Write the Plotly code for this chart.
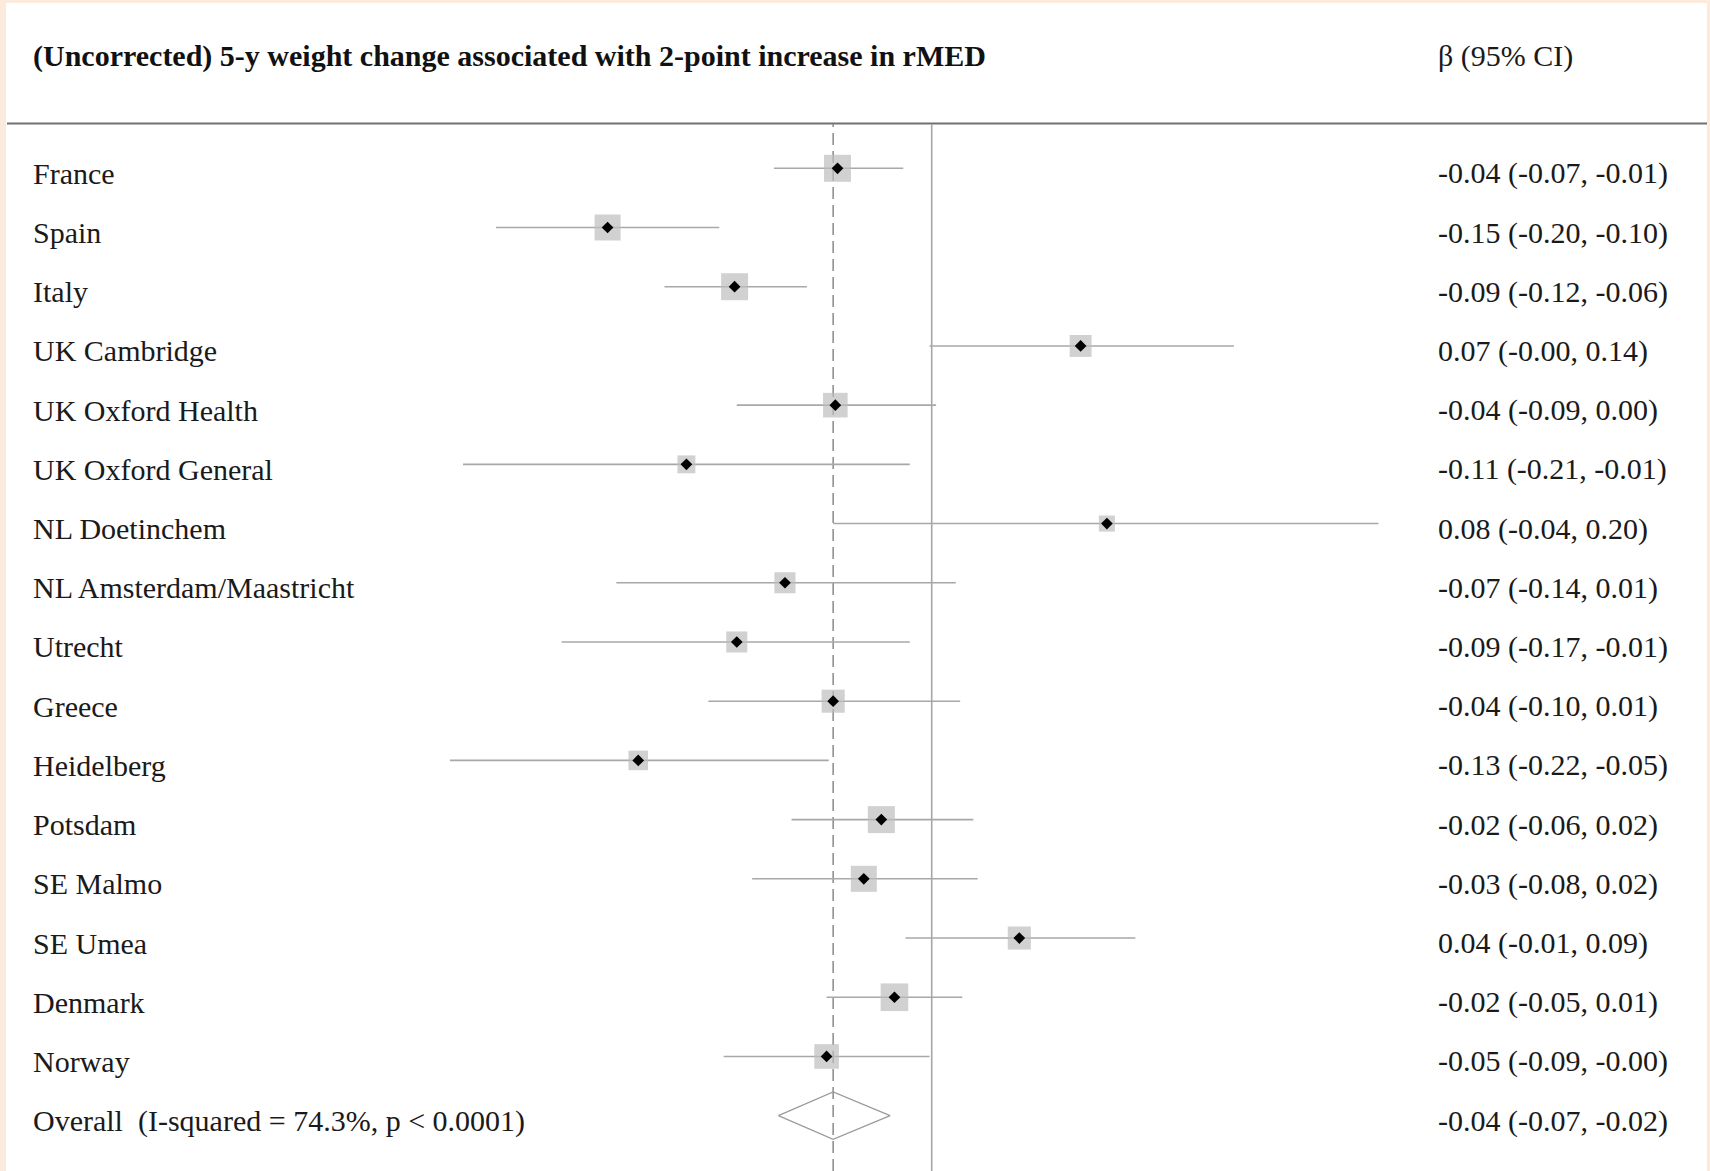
import math
import plotly.graph_objects as go

# ---------------- data ----------------
studies = ["France", "Spain", "Italy", "UK Cambridge", "UK Oxford Health",
           "UK Oxford General", "NL Doetinchem", "NL Amsterdam/Maastricht",
           "Utrecht", "Greece", "Heidelberg", "Potsdam", "SE Malmo",
           "SE Umea", "Denmark", "Norway"]
beta = [-0.043, -0.148, -0.090, 0.068, -0.044, -0.112, 0.080, -0.067,
        -0.089, -0.045, -0.134, -0.023, -0.031, 0.040, -0.017, -0.048]
ci_low = [-0.072, -0.199, -0.122, -0.001, -0.089, -0.214, -0.045, -0.144,
          -0.169, -0.102, -0.220, -0.064, -0.082, -0.012, -0.048, -0.095]
ci_high = [-0.013, -0.097, -0.057, 0.138, 0.002, -0.010, 0.204, 0.011,
           -0.010, 0.013, -0.047, 0.019, 0.021, 0.093, 0.014, -0.001]
weight_pct = [8.2, 7.6, 8.2, 5.4, 6.8, 3.6, 2.9, 5.0, 5.0, 6.0, 4.3, 8.2,
              7.6, 6.0, 8.6, 6.8]
ci_labels = ["-0.04 (-0.07, -0.01)", "-0.15 (-0.20, -0.10)",
             "-0.09 (-0.12, -0.06)", "0.07 (-0.00, 0.14)",
             "-0.04 (-0.09, 0.00)", "-0.11 (-0.21, -0.01)",
             "0.08 (-0.04, 0.20)", "-0.07 (-0.14, 0.01)",
             "-0.09 (-0.17, -0.01)", "-0.04 (-0.10, 0.01)",
             "-0.13 (-0.22, -0.05)", "-0.02 (-0.06, 0.02)",
             "-0.03 (-0.08, 0.02)", "0.04 (-0.01, 0.09)",
             "-0.02 (-0.05, 0.01)", "-0.05 (-0.09, -0.00)"]
overall_name = "Overall\u00a0 (I-squared = 74.3%, p < 0.0001)"
overall_beta = -0.045
overall_low = -0.070
overall_high = -0.019
overall_label = "-0.04 (-0.07, -0.02)"
title_text = "(Uncorrected) 5-y weight change associated with 2-point increase in rMED"
col_header = "β (95% CI)"

# ---------------- layout geometry ----------------
W, H = 1710, 1171
ZERO_PX = 931.7
PX_PER_UNIT = 2190.0
ROW0_PX = 168.3
ROW_STEP = 59.21
FONT = "Liberation Serif, Times New Roman, serif"
LABEL_SIZE = 30
TITLE_SIZE = 30
TEXT_COLOR = "#1a1a1a"

n = len(studies)
rows = list(range(n))
overall_row = n

def px_x(p):
    return p / W

def px_y(p):
    return 1 - p / H

fig = go.Figure()

# CI lines
cx, cy = [], []
for i, (lo, hi) in enumerate(zip(ci_low, ci_high)):
    cx += [lo, hi, None]
    cy += [i, i, None]
fig.add_trace(go.Scatter(x=cx, y=cy, mode="lines",
                         line=dict(color="#a8a8a8", width=1.6),
                         hoverinfo="skip", showlegend=False))

# weight squares
sizes = [9.43 * math.sqrt(w) for w in weight_pct]
fig.add_trace(go.Scatter(x=beta, y=rows, mode="markers",
                         marker=dict(symbol="square", size=sizes,
                                     color="#bdbdbd", line=dict(width=0)),
                         hoverinfo="skip", showlegend=False))

# point estimates
fig.add_trace(go.Scatter(x=beta, y=rows, mode="markers",
                         marker=dict(symbol="diamond", size=9, color="black",
                                     line=dict(width=0)),
                         text=studies, hoverinfo="text+x", showlegend=False))

# overall diamond
half_h = 0.4
fig.add_trace(go.Scatter(
    x=[overall_low, overall_beta, overall_high, overall_beta, overall_low],
    y=[overall_row, overall_row - half_h, overall_row, overall_row + half_h, overall_row],
    mode="lines", line=dict(color="#9a9a9a", width=1.3),
    hoverinfo="skip", showlegend=False))

shapes = [
    # white page inside the peach frame
    dict(type="rect", xref="paper", yref="paper", x0=px_x(6), x1=px_x(1707),
         y0=0, y1=px_y(3), fillcolor="white", line=dict(width=0), layer="below"),
    # header rule
    dict(type="line", xref="paper", yref="paper", x0=px_x(7), x1=px_x(1707),
         y0=px_y(123.5), y1=px_y(123.5), line=dict(color="#707070", width=2),
         layer="below"),
    # no-effect line
    dict(type="line", xref="x", yref="paper", x0=0, x1=0, y0=0, y1=px_y(124),
         line=dict(color="#a6a6a6", width=1.6), layer="below"),
    # overall effect (dashed)
    dict(type="line", xref="x", yref="paper", x0=overall_beta, x1=overall_beta,
         y0=0, y1=px_y(124), line=dict(color="#8a8a8a", width=1.5,
                                       dash="12px,6px"), layer="below"),
]

annotations = []
for i, (name, lab) in enumerate(zip(studies + [overall_name], ci_labels + [overall_label])):
    annotations.append(dict(xref="paper", yref="y", x=px_x(31), y=i, text=name,
                            xanchor="left", yanchor="middle", yshift=-5,
                            showarrow=False,
                            font=dict(family=FONT, size=LABEL_SIZE, color=TEXT_COLOR)))
    annotations.append(dict(xref="paper", yref="y", x=px_x(1436), y=i, text=lab,
                            xanchor="left", yanchor="middle", yshift=-5,
                            showarrow=False,
                            font=dict(family=FONT, size=LABEL_SIZE, color=TEXT_COLOR)))
annotations.append(dict(xref="paper", yref="paper", x=px_x(31), y=px_y(56),
                        text="<b>" + title_text + "</b>", xanchor="left",
                        yanchor="middle", showarrow=False,
                        font=dict(family=FONT, size=TITLE_SIZE, color="#111111")))
annotations.append(dict(xref="paper", yref="paper", x=px_x(1436), y=px_y(56),
                        text=col_header, xanchor="left", yanchor="middle",
                        showarrow=False,
                        font=dict(family=FONT, size=LABEL_SIZE, color=TEXT_COLOR)))

fig.update_layout(
    width=W, height=H,
    margin=dict(l=0, r=0, t=0, b=0),
    paper_bgcolor="#FCEBDD",
    plot_bgcolor="rgba(0,0,0,0)",
    xaxis=dict(range=[-ZERO_PX / PX_PER_UNIT, (W - ZERO_PX) / PX_PER_UNIT],
               visible=False, showgrid=False, zeroline=False, domain=[0, 1]),
    yaxis=dict(range=[(H - ROW0_PX) / ROW_STEP, -ROW0_PX / ROW_STEP],
               visible=False, showgrid=False, zeroline=False, domain=[0, 1]),
    shapes=shapes,
    annotations=annotations,
    showlegend=False,
)

fig.write_html("out.html")
